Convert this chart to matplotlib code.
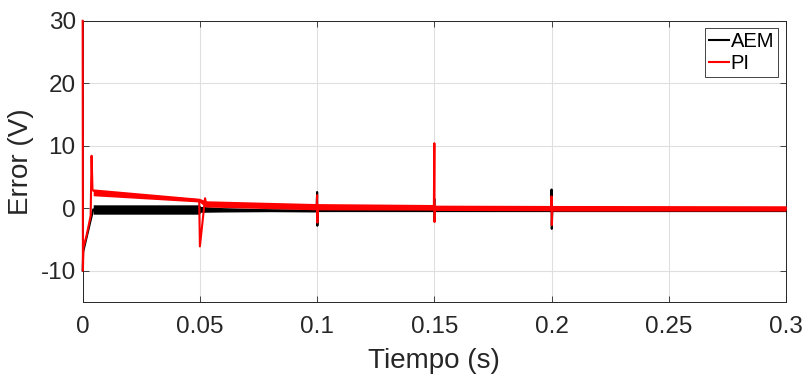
import matplotlib
matplotlib.use("Agg")
import matplotlib.pyplot as plt

# ── data ─────────────────────────────────────────────────────────────────────
# AEM (black): centre line with switching spikes
aem_t = [0, 0.0002, 0.0045, 0.0497, 0.0503, 0.06, 0.0998, 0.1, 0.1001, 0.1003,
         0.1498, 0.15, 0.1501, 0.1503, 0.1998, 0.2, 0.2001, 0.2003, 0.3]
aem_v = [-10, -7, -0.2, -0.2, -0.2, -0.3, -0.4, 2.6, -2.8, -0.45,
         -0.45, 1.5, -2.0, -0.45, -0.45, 3.0, -3.3, -0.45, -0.45]
# AEM ripple envelope
aem_band_t = [0.0045, 0.0497, 0.0503, 0.06, 0.08, 0.0998]
aem_band_hi = [0.55, 0.55, 0.3, 0.1, -0.1, -0.2]
aem_band_lo = [-0.95, -0.95, -0.65, -0.6, -0.55, -0.6]

# PI (red): centre line with start-up transient and spikes
pi_t = [0, 0.0001, 0.0003, 0.0017, 0.0034, 0.0038, 0.0042, 0.006, 0.0497,
        0.05, 0.0522, 0.0527, 0.055, 0.0998, 0.1, 0.1001, 0.1003,
        0.1498, 0.15, 0.1501, 0.1503, 0.1998, 0.2, 0.2001, 0.2003, 0.3]
pi_v = [30, -10, -6.3, -4.3, -1.2, 8.4, 2.9, 2.5, 1.3,
        -6.1, 1.6, 0.7, 0.6, 0.3, 2.1, -2.3, 0.25,
        0.15, 10.4, -2.2, 0.1, 0.05, 1.9, -2.7, 0.0, 0.0]
# PI ripple envelope
pi_band_t = [0.0045, 0.0497, 0.0525, 0.0998, 0.1003, 0.1498, 0.1503, 0.1998, 0.2003, 0.3]
pi_band_hi = [3.1, 1.6, 1.2, 0.75, 0.75, 0.6, 0.5, 0.45, 0.45, 0.4]
pi_band_lo = [2.0, 1.0, 0.2, -0.25, -0.25, -0.3, -0.35, -0.4, -0.45, -0.45]

x_ticks = [0, 0.05, 0.1, 0.15, 0.2, 0.25, 0.3]
x_tick_labels = ["0", "0.05", "0.1", "0.15", "0.2", "0.25", "0.3"]
y_ticks = [-10, 0, 10, 20, 30]

# ── figure ───────────────────────────────────────────────────────────────────
plt.rcParams["font.family"] = ["Liberation Sans", "DejaVu Sans"]
plt.rcParams["axes.unicode_minus"] = False
AX_COL = "#262626"

fig = plt.figure(figsize=(8.05, 3.79), dpi=100)
ax = fig.add_axes([0.1027, 0.2032, 0.8737, 0.7419])

ax.fill_between(aem_band_t, aem_band_lo, aem_band_hi, color="black", lw=0, zorder=3)
ax.plot(aem_t, aem_v, color="black", lw=1.5, label="AEM", zorder=3, clip_on=False)
ax.fill_between(pi_band_t, pi_band_lo, pi_band_hi, color="#ff0000", lw=0, zorder=4)
ax.plot(pi_t, pi_v, color="#ff0000", lw=1.5, label="PI", zorder=4, clip_on=False)

ax.set_xlim(0, 0.3)
ax.set_ylim(-15, 30)
ax.set_xticks(x_ticks)
ax.set_xticklabels(x_tick_labels)
ax.set_yticks(y_ticks)
ax.grid(True, color="#dfdfdf", lw=0.8, zorder=0)
ax.set_axisbelow(True)

ax.tick_params(direction="in", length=4, width=0.6, colors=AX_COL,
               labelsize=17.5, top=True, right=True)
ax.tick_params(axis="x", pad=10)
ax.tick_params(axis="y", pad=5)
for sp in ax.spines.values():
    sp.set_color(AX_COL)
    sp.set_linewidth(0.7)

ax.set_xlabel("Tiempo (s)", fontsize=20, color=AX_COL, labelpad=7)
ax.set_ylabel("Error (V)", fontsize=20, color=AX_COL, labelpad=5)

leg = ax.legend(loc="upper right", bbox_to_anchor=(0.989, 0.975),
                borderaxespad=0, fontsize=14.5, handlelength=1.0,
                handletextpad=0.1, labelspacing=0.15, borderpad=0.2,
                fancybox=False, framealpha=1)
leg.get_frame().set_edgecolor(AX_COL)
leg.get_frame().set_linewidth(0.6)

fig.savefig("out.png", dpi=100)
